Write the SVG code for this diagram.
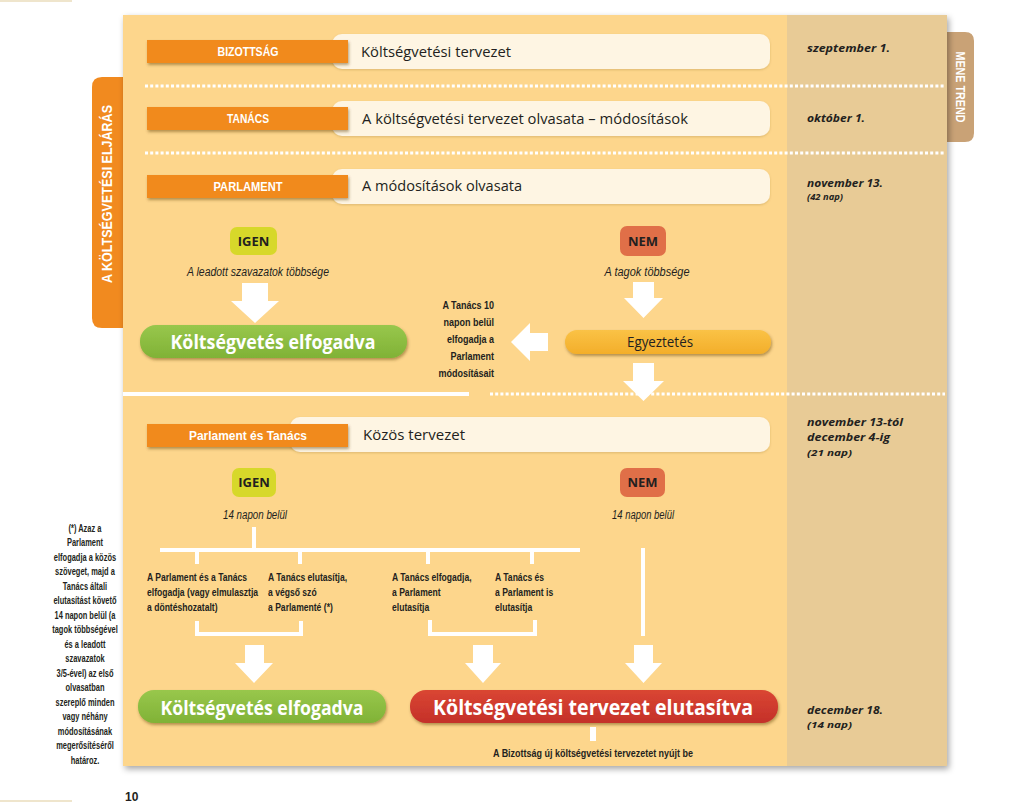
<svg xmlns="http://www.w3.org/2000/svg" width="1024" height="803" viewBox="0 0 1024 803">
<defs>
<filter id="panelSh" x="-5%" y="-5%" width="110%" height="110%"><feDropShadow dx="2" dy="3" stdDeviation="3" flood-color="#000" flood-opacity="0.35"/></filter>
<filter id="sh" x="-10%" y="-40%" width="120%" height="200%"><feDropShadow dx="1" dy="2" stdDeviation="1.6" flood-color="#5a3a10" flood-opacity="0.45"/></filter>
<filter id="shs" x="-5%" y="-30%" width="110%" height="170%"><feDropShadow dx="0" dy="1" stdDeviation="1.2" flood-color="#7a5a20" flood-opacity="0.25"/></filter>
<linearGradient id="gGreen" x1="0" y1="0" x2="0" y2="1"><stop offset="0" stop-color="#98C74C"/><stop offset="1" stop-color="#80B236"/></linearGradient>
<linearGradient id="gRed" x1="0" y1="0" x2="0" y2="1"><stop offset="0" stop-color="#DA4632"/><stop offset="1" stop-color="#C4302A"/></linearGradient>
<linearGradient id="gGold" x1="0" y1="0" x2="0" y2="1"><stop offset="0" stop-color="#FAC246"/><stop offset="1" stop-color="#F3AE2A"/></linearGradient>
</defs>
<style>
.lbl{font-family:"Liberation Sans",Arial,sans-serif;font-weight:bold;fill:#fff;font-size:12px;text-anchor:middle}
.row{font-family:"Open Sans","Liberation Sans",sans-serif;font-size:14px;fill:#231f20}
.date{font-family:"Open Sans","Liberation Sans",sans-serif;font-style:italic;font-weight:bold;font-size:11px;fill:#231f20}
.date2{font-family:"Open Sans","Liberation Sans",sans-serif;font-style:italic;font-weight:bold;font-size:9.5px;fill:#231f20}
.badge{font-family:"Open Sans","Liberation Sans",sans-serif;font-weight:bold;font-size:13px;fill:#231f20;text-anchor:middle}
.cap{font-family:"Liberation Sans",Arial,sans-serif;font-style:italic;font-size:12px;fill:#231f20;text-anchor:middle}
.pill{font-family:"Open Sans","Liberation Sans",sans-serif;font-weight:bold;fill:#fff;text-anchor:middle}
.small{font-family:"Liberation Sans",Arial,sans-serif;font-weight:bold;font-size:11px;fill:#231f20}
.wl{stroke:#fff;stroke-width:4;fill:none}
.dots{stroke:#fff;stroke-width:3;stroke-dasharray:3 2.2}
.arrow{fill:#fff}
.cream{fill:#FEF5E3}
.orange{fill:#F18A1F}
</style>
<rect width="1024" height="803" fill="#fff"/>
<line x1="0" y1="1" x2="72" y2="1" stroke="#EFE5CC" stroke-width="2"/>
<line x1="0" y1="801" x2="72" y2="801" stroke="#EFE5CC" stroke-width="2"/>

<g id="tab-left">
<path d="M123,77 H102 Q92,77 92,87 V318 Q92,328 102,328 H123 Z" fill="#F18A1F"/>
<text transform="translate(112,194) rotate(-90)" font-family="Liberation Sans,Arial,sans-serif" font-weight="bold" font-size="15" fill="#fff" text-anchor="middle" textLength="178" lengthAdjust="spacingAndGlyphs">A KÖLTSÉGVETÉSI ELJÁRÁS</text>
</g>
<g id="tab-right">
<path d="M945,32 H965 Q974,32 974,41 V133 Q974,142 965,142 H945 Z" fill="#C9A276"/>
<text transform="translate(956,87) rotate(90)" font-family="Liberation Sans,Arial,sans-serif" font-weight="bold" font-size="12" fill="#fff" text-anchor="middle" textLength="71" lengthAdjust="spacingAndGlyphs">MENE TREND</text>
</g>

<g id="panel">
<rect x="123" y="15" width="824" height="751" fill="#FDD68C" filter="url(#panelSh)"/>
<rect x="787" y="15" width="160" height="751" fill="#E8CB96"/>
</g>

<g id="separators">
<line class="dots" x1="145" y1="86" x2="945" y2="86"/>
<line class="dots" x1="145" y1="153" x2="945" y2="153"/>
<line x1="123" y1="394" x2="469" y2="394" stroke="#fff" stroke-width="4"/>
<line class="dots" x1="490" y1="394" x2="945" y2="394"/>
</g>

<g id="row-bizottsag">
<rect class="cream" x="332" y="34" width="438" height="35" rx="10" filter="url(#shs)"/>
<rect class="orange" x="147" y="40" width="201" height="23" filter="url(#sh)"/>
<text class="lbl" x="248" y="56" textLength="61" lengthAdjust="spacingAndGlyphs">BIZOTTSÁG</text>
<text class="row" x="361" y="57" textLength="150" lengthAdjust="spacingAndGlyphs">Költségvetési tervezet</text>
</g>
<g id="row-tanacs">
<rect class="cream" x="332" y="101" width="438" height="35" rx="10" filter="url(#shs)"/>
<rect class="orange" x="147" y="107" width="201" height="23" filter="url(#sh)"/>
<text class="lbl" x="248" y="123" textLength="42" lengthAdjust="spacingAndGlyphs">TANÁCS</text>
<text class="row" x="362" y="124" textLength="326" lengthAdjust="spacingAndGlyphs">A költségvetési tervezet olvasata – módosítások</text>
</g>
<g id="row-parlament">
<rect class="cream" x="332" y="169" width="438" height="35" rx="10" filter="url(#shs)"/>
<rect class="orange" x="147" y="175" width="201" height="23" filter="url(#sh)"/>
<text class="lbl" x="248" y="191" textLength="69" lengthAdjust="spacingAndGlyphs">PARLAMENT</text>
<text class="row" x="362" y="191" textLength="160" lengthAdjust="spacingAndGlyphs">A módosítások olvasata</text>
</g>

<g id="dates">
<text class="date" x="807" y="52" textLength="83" lengthAdjust="spacingAndGlyphs">szeptember 1.</text>
<text class="date" x="807" y="122" textLength="58" lengthAdjust="spacingAndGlyphs">október 1.</text>
<text class="date" x="807" y="187" textLength="76" lengthAdjust="spacingAndGlyphs">november 13.</text>
<text class="date2" x="807" y="200" textLength="36" lengthAdjust="spacingAndGlyphs">(42 nap)</text>
<text class="date" x="807" y="426" textLength="96" lengthAdjust="spacingAndGlyphs">november 13-tól</text>
<text class="date" x="807" y="441" textLength="83" lengthAdjust="spacingAndGlyphs">december 4-ig</text>
<text class="date2" x="807" y="456" textLength="45" lengthAdjust="spacingAndGlyphs">(21 nap)</text>
<text class="date" x="807" y="714" textLength="76" lengthAdjust="spacingAndGlyphs">december 18.</text>
<text class="date2" x="807" y="728" textLength="45" lengthAdjust="spacingAndGlyphs">(14 nap)</text>
</g>

<g id="igen-1">
<rect x="230" y="227" width="47" height="28" rx="7" fill="#D7D82A"/>
<text class="badge" x="253.5" y="246">IGEN</text>
<text class="cap" x="258" y="276" textLength="142" lengthAdjust="spacingAndGlyphs">A leadott szavazatok többsége</text>
</g>
<g id="nem-1">
<rect x="620" y="226" width="46" height="30" rx="7" fill="#E06F48"/>
<text class="badge" x="643" y="246">NEM</text>
<text class="cap" x="647" y="276" textLength="85" lengthAdjust="spacingAndGlyphs">A tagok többsége</text>
</g>
<g id="elfogadva-1">
<rect x="140" y="325" width="267" height="33" rx="16" fill="url(#gGreen)" filter="url(#sh)"/>
<text class="pill" x="273" y="349" font-size="19" textLength="205" lengthAdjust="spacingAndGlyphs">Költségvetés elfogadva</text>
</g>
<g id="egyeztetes">
<rect x="565" y="330" width="206" height="24" rx="12" fill="url(#gGold)" filter="url(#sh)"/>
<text x="660" y="347" font-family="Open Sans,Liberation Sans,sans-serif" font-size="14" fill="#231f20" text-anchor="middle" textLength="66" lengthAdjust="spacingAndGlyphs">Egyeztetés</text>
</g>
<g id="tanacs-10-nap">
<text class="small" font-size="12" text-anchor="end" transform="translate(494,0) scale(0.82,1)"><tspan x="0" y="309">A Tanács 10</tspan><tspan x="0" y="326">napon belül</tspan><tspan x="0" y="343">elfogadja a</tspan><tspan x="0" y="360">Parlament</tspan><tspan x="0" y="377">módosításait</tspan></text>
</g>

<g id="row-kozos">
<rect class="cream" x="290" y="417" width="480" height="35" rx="10" filter="url(#shs)"/>
<rect class="orange" x="147" y="424" width="201" height="23" filter="url(#sh)"/>
<text class="lbl" x="248" y="440" textLength="118" lengthAdjust="spacingAndGlyphs">Parlament és Tanács</text>
<text class="row" x="363" y="440" textLength="102" lengthAdjust="spacingAndGlyphs">Közös tervezet</text>
</g>
<g id="igen-2">
<rect x="232" y="468" width="44" height="29" rx="7" fill="#D7D82A"/>
<text class="badge" x="254" y="487">IGEN</text>
<text class="cap" x="255" y="519" textLength="64" lengthAdjust="spacingAndGlyphs">14 napon belül</text>
</g>
<g id="nem-2">
<rect x="620" y="468" width="45" height="29" rx="7" fill="#E06F48"/>
<text class="badge" x="642.5" y="487">NEM</text>
<text class="cap" x="643" y="519" textLength="62" lengthAdjust="spacingAndGlyphs">14 napon belül</text>
</g>
<g id="opt-1">
<text class="small" transform="translate(147,0) scale(0.78,1)"><tspan x="0" y="581">A Parlament és a Tanács</tspan><tspan x="0" y="596">elfogadja (vagy elmulasztja</tspan><tspan x="0" y="611">a döntéshozatalt)</tspan></text>
</g>
<g id="opt-2">
<text class="small" transform="translate(268,0) scale(0.78,1)"><tspan x="0" y="581">A Tanács elutasítja,</tspan><tspan x="0" y="596">a végső szó</tspan><tspan x="0" y="611">a Parlamenté (*)</tspan></text>
</g>
<g id="opt-3">
<text class="small" transform="translate(392,0) scale(0.78,1)"><tspan x="0" y="581">A Tanács elfogadja,</tspan><tspan x="0" y="596">a Parlament</tspan><tspan x="0" y="611">elutasítja</tspan></text>
</g>
<g id="opt-4">
<text class="small" transform="translate(495,0) scale(0.78,1)"><tspan x="0" y="581">A Tanács és</tspan><tspan x="0" y="596">a Parlament is</tspan><tspan x="0" y="611">elutasítja</tspan></text>
</g>
<g id="elfogadva-2">
<rect x="138" y="690" width="248" height="33" rx="16" fill="url(#gGreen)" filter="url(#sh)"/>
<text class="pill" x="262" y="715" font-size="19" textLength="203" lengthAdjust="spacingAndGlyphs">Költségvetés elfogadva</text>
</g>
<g id="elutasitva">
<rect x="410" y="690" width="368" height="33" rx="16" fill="url(#gRed)" filter="url(#sh)"/>
<text class="pill" x="593" y="715" font-size="22" textLength="320" lengthAdjust="spacingAndGlyphs">Költségvetési tervezet elutasítva</text>
</g>
<g id="uj-tervezet">
<text class="small" x="593" y="757" font-size="10" text-anchor="middle" textLength="200" lengthAdjust="spacingAndGlyphs">A Bizottság új költségvetési tervezetet nyújt be</text>
</g>

<g id="connectors">
<path class="arrow" d="M242,283 H268 V301 H279 L255,323 L231,301 H242 Z"/>
<path class="arrow" d="M633,282 H654 V298 H663 L643.5,318 L624,298 H633 Z"/>
<path class="arrow" d="M548,333 V351 H530 V361 L511,342 L530,323 V333 Z"/>
<path class="arrow" d="M633,363 H654 V381 H664 L643.5,401 L623,381 H633 Z"/>
<line class="wl" x1="254" y1="527" x2="254" y2="550"/>
<line class="wl" x1="160" y1="550" x2="580" y2="550"/>
<line class="wl" x1="197" y1="550" x2="197" y2="564"/>
<line class="wl" x1="300" y1="550" x2="300" y2="564"/>
<line class="wl" x1="428" y1="550" x2="428" y2="564"/>
<line class="wl" x1="532" y1="550" x2="532" y2="564"/>
<path class="wl" d="M197,621 V634 H301 V621"/>
<path class="wl" d="M430,620 V634 H535 V620"/>
<line class="wl" x1="643" y1="548" x2="643" y2="636"/>
<path class="arrow" d="M245,645 H264 V663 H273 L254,683 L235,663 H245 Z"/>
<path class="arrow" d="M473,645 H493 V663 H501 L483,683 L465,663 H473 Z"/>
<path class="arrow" d="M634,645 H653 V663 H662 L643.5,683 L625,663 H634 Z"/>
<rect class="arrow" x="590" y="727" width="6" height="14"/>
</g>

<g id="footnote">
<text class="small" text-anchor="middle" transform="translate(85,0) scale(0.68,1)"><tspan x="0" y="532">(*) Azaz a</tspan><tspan x="0" y="546.5">Parlament</tspan><tspan x="0" y="561">elfogadja a közös</tspan><tspan x="0" y="575.5">szöveget, majd a</tspan><tspan x="0" y="590">Tanács általi</tspan><tspan x="0" y="604.5">elutasítást követő</tspan><tspan x="0" y="619">14 napon belül (a</tspan><tspan x="0" y="633.5">tagok többségével</tspan><tspan x="0" y="648">és a leadott</tspan><tspan x="0" y="662.5">szavazatok</tspan><tspan x="0" y="677">3/5-ével) az első</tspan><tspan x="0" y="691.5">olvasatban</tspan><tspan x="0" y="706">szereplő minden</tspan><tspan x="0" y="720.5">vagy néhány</tspan><tspan x="0" y="735">módosításának</tspan><tspan x="0" y="749.5">megerősítéséről</tspan><tspan x="0" y="764">határoz.</tspan></text>
</g>
<text x="125" y="801" font-family="Liberation Sans,Arial,sans-serif" font-weight="bold" font-size="12" fill="#231f20">10</text>
</svg>
